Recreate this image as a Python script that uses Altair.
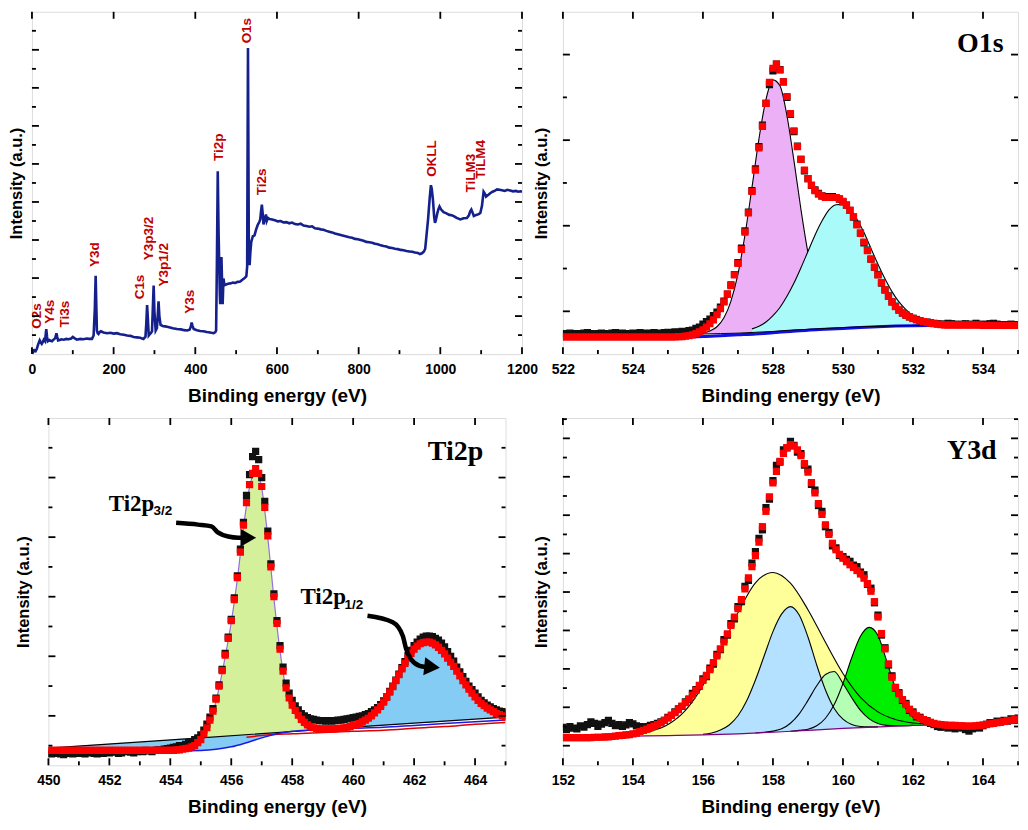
import altair as alt
import pandas as pd

SANS = "Liberation Sans"
SERIF = "Liberation Serif"
MAJ, MIN = 7, 4

# ---------------- survey spectrum ----------------
survey_be = [0, 3, 6, 9, 12, 15, 19, 22, 24, 27,
             29, 32, 35, 37, 39, 43, 46, 49, 53, 57,
             60, 62, 64, 68, 72, 78, 84, 90, 96, 100,
             104, 110, 118, 126, 134, 140, 147, 151, 154, 156,
             158, 159, 161, 163, 166, 169, 175, 184, 192, 200,
             208, 216, 225, 233, 241, 249, 257, 265, 273, 278,
             280, 282, 284, 286, 289, 291, 294, 296, 298, 300,
             303, 306, 308, 310, 312, 315, 320, 326, 331, 338,
             345, 355, 365, 373, 380, 386, 389, 391, 393, 396,
             404, 412, 420, 428, 436, 445, 449, 451, 453, 455,
             457, 458, 460, 461, 463, 464, 466, 467, 469, 471,
             473, 480, 486, 492, 498, 504, 510, 516, 522, 525,
             527, 529, 531, 533, 535, 537, 541, 545, 549, 553,
             557, 559, 561, 563, 565, 567, 569, 571, 573, 575,
             578, 582, 588, 595, 602, 609, 616, 623, 630, 637,
             644, 651, 658, 665, 672, 679, 686, 693, 700, 707,
             714, 721, 728, 735, 742, 749, 756, 763, 770, 777,
             784, 791, 798, 805, 812, 819, 826, 833, 840, 847,
             854, 861, 868, 875, 882, 889, 896, 903, 910, 917,
             924, 931, 938, 945, 950, 955, 960, 963, 966, 970,
             974, 977, 979, 982, 985, 987, 989, 992, 995, 998,
             1002, 1008, 1015, 1022, 1028, 1033, 1040, 1049, 1057, 1065,
             1070, 1073, 1076, 1079, 1082, 1088, 1094, 1098, 1102, 1106,
             1109, 1112, 1117, 1122, 1128, 1134, 1139, 1145, 1151, 1158,
             1164, 1171, 1178, 1185, 1191, 1196, 1200]
survey_int = [0.12, 0.05, 0.10, 0.08, 0.14, 0.25, 0.36, 0.30, 0.27, 0.33,
              0.38, 0.34, 0.66, 0.45, 0.34, 0.37, 0.35, 0.34, 0.38, 0.42,
              0.55, 0.45, 0.36, 0.37, 0.39, 0.38, 0.40, 0.39, 0.41, 0.45,
              0.42, 0.38, 0.40, 0.39, 0.41, 0.40, 0.40, 0.49, 1.20, 2.06,
              1.10, 0.62, 0.55, 0.53, 0.58, 0.60, 0.57, 0.55, 0.56, 0.54,
              0.55, 0.52, 0.51, 0.49, 0.48, 0.45, 0.44, 0.43, 0.40, 0.46,
              0.80, 1.29, 0.90, 0.49, 0.53, 0.55, 0.60, 1.20, 1.80, 1.10,
              0.62, 0.68, 1.00, 1.39, 1.00, 0.77, 0.74, 0.73, 0.72, 0.70,
              0.68, 0.66, 0.65, 0.63, 0.62, 0.64, 0.72, 0.83, 0.75, 0.66,
              0.63, 0.61, 0.60, 0.58, 0.57, 0.55, 0.58, 0.62, 2.50, 4.81,
              3.20, 2.68, 1.60, 1.31, 2.20, 2.55, 1.70, 1.31, 1.99, 1.85,
              1.82, 1.85, 1.86, 1.88, 1.87, 1.90, 1.91, 1.96, 2.01, 2.05,
              2.30, 8.05, 3.00, 2.34, 2.70, 2.95, 3.10, 3.12, 3.28, 3.40,
              3.48, 3.54, 3.75, 3.93, 3.70, 3.41, 3.50, 3.58, 3.67, 3.50,
              3.58, 3.55, 3.54, 3.52, 3.49, 3.50, 3.46, 3.47, 3.44, 3.46,
              3.42, 3.41, 3.43, 3.38, 3.37, 3.35, 3.36, 3.31, 3.30, 3.28,
              3.27, 3.24, 3.22, 3.20, 3.17, 3.15, 3.13, 3.11, 3.09, 3.07,
              3.06, 3.03, 3.02, 3.00, 2.98, 2.95, 2.94, 2.93, 2.90, 2.89,
              2.86, 2.84, 2.83, 2.80, 2.79, 2.77, 2.76, 2.74, 2.73, 2.71,
              2.70, 2.69, 2.67, 2.66, 2.63, 2.65, 2.70, 2.77, 3.10, 3.54,
              4.10, 4.44, 4.35, 4.05, 3.60, 3.45, 3.52, 3.67, 3.80, 3.88,
              3.80, 3.73, 3.70, 3.66, 3.65, 3.63, 3.58, 3.54, 3.57, 3.58,
              3.65, 3.75, 3.80, 3.72, 3.63, 3.66, 3.68, 3.71, 3.90, 4.27,
              4.22, 4.14, 4.18, 4.23, 4.27, 4.30, 4.33, 4.32, 4.31, 4.29,
              4.32, 4.30, 4.28, 4.29, 4.27, 4.28, 4.27]
survey_peak_names = ["O2s", "Y4s", "Ti3s", "Y3d", "C1s", "Y3p3/2", "Y3p1/2", "Y3s",
                     "Ti2p", "O1s", "Ti2s", "OKLL", "TiLM3", "TiLM4"]
survey_peak_be = [12.2, 43.3, 80.8, 154.3, 264.5, 286.5, 323.3, 387, 458, 526.6,
                  562.6, 979.7, 1074.4, 1099]
survey_peak_int = [0.67, 0.80, 0.70, 2.29, 1.44, 2.47, 1.78, 1.06, 5.08, 8.17,
                   4.18, 4.66, 4.25, 4.61]
survey_xmajor = [0, 200, 400, 600, 800, 1000, 1200]
survey_xminor = [100, 300, 500, 700, 900, 1100]
survey_ymajor = [1, 2, 3, 4, 5, 6, 7, 8]
survey_yminor = [0.5, 1.5, 2.5, 3.5, 4.5, 5.5, 6.5, 7.5, 8.5]

# ---------------- O1s ----------------
o1s_start = 522.0
o1s_fit = [0.40] * 33 + [
    0.41, 0.41, 0.42, 0.43, 0.45, 0.48, 0.52,
    0.57, 0.63, 0.71, 0.80, 0.92, 1.06, 1.22, 1.40, 1.60, 1.85,
    2.12, 2.45, 2.85, 3.30, 3.80, 4.30, 4.82, 5.32, 5.86, 6.35,
    6.68, 6.78, 6.64, 6.36, 6.02, 5.62, 5.22, 4.85, 4.55, 4.30,
    4.10, 3.95, 3.82, 3.74, 3.69, 3.66, 3.66, 3.66, 3.66, 3.63,
    3.57, 3.48, 3.36, 3.21, 3.02, 2.82, 2.62, 2.42, 2.22, 2.03,
    1.85, 1.67, 1.50, 1.35, 1.22, 1.11, 1.03, 0.96, 0.91, 0.87,
    0.83, 0.80, 0.78, 0.76, 0.74, 0.72, 0.71, 0.70, 0.69, 0.68] + [0.68] * 10 + [0.67] * 11
o1s_raw = [0.47, 0.48, 0.49, 0.48, 0.47, 0.48, 0.49, 0.50, 0.48, 0.47,
           0.48, 0.49, 0.48, 0.47, 0.49, 0.50, 0.48, 0.49, 0.48, 0.47,
           0.49, 0.48, 0.50, 0.49, 0.48, 0.49, 0.50, 0.49, 0.48, 0.50, 0.51,
           0.50, 0.52, 0.51, 0.53, 0.52, 0.55, 0.56, 0.60, 0.63,
           0.70, 0.76, 0.82, 0.90, 0.98, 1.10, 1.24, 1.40, 1.62, 1.86,
           2.14, 2.48, 2.88, 3.32, 3.82, 4.33, 4.85, 5.35, 5.86, 6.30,
           6.62, 6.78, 6.65, 6.36, 6.00, 5.60, 5.20, 4.86, 4.55, 4.28,
           4.10, 3.94, 3.84, 3.76, 3.70, 3.68, 3.66, 3.68, 3.66, 3.62,
           3.56, 3.48, 3.36, 3.20, 3.04, 2.83, 2.60, 2.43, 2.22, 2.03,
           1.86, 1.66, 1.50, 1.36, 1.22, 1.12, 1.03, 0.96, 0.91, 0.87,
           0.84, 0.81, 0.78, 0.76, 0.75, 0.73, 0.72, 0.71, 0.70, 0.70,
           0.72, 0.71, 0.70, 0.69, 0.70, 0.71, 0.69, 0.70, 0.72, 0.70,
           0.69, 0.70, 0.71, 0.72, 0.70, 0.69, 0.68, 0.69, 0.70, 0.69, 0.68]
o1s_bg_be = [522, 526, 526.5, 527, 527.5, 528, 528.5, 529, 529.5, 530, 530.5, 531, 531.5, 532, 533, 535]
o1s_bg = [0.46, 0.47, 0.48, 0.49, 0.51, 0.53, 0.56, 0.58, 0.60, 0.62, 0.64, 0.65, 0.66, 0.67, 0.68, 0.69]
o1s_blue_be = [522, 525, 525.5, 526, 526.5, 527, 527.5, 528, 528.5, 529, 529.5, 530, 530.5, 531, 531.5, 532, 532.5, 533]
o1s_blue = [0.39, 0.40, 0.40, 0.41, 0.43, 0.45, 0.47, 0.50, 0.53, 0.56, 0.58, 0.60, 0.62, 0.64, 0.655, 0.665, 0.67, 0.675]
o1s_p1_be = [526.0, 526.2, 526.4, 526.6, 526.8, 527.0, 527.2, 527.4, 527.6, 527.8, 528.0,
             528.2, 528.4, 528.6, 528.8, 529.0, 529.2, 529.4, 529.6, 529.8, 530.0]
o1s_p1_lo = [0.47, 0.47, 0.48, 0.48, 0.49, 0.49, 0.50, 0.51, 0.51, 0.52, 0.53,
             0.54, 0.55, 0.57, 0.57, 0.58, 0.59, 0.60, 0.60, 0.61, 0.62]
o1s_p1_hi = [0.49, 0.54, 0.64, 0.85, 1.24, 1.87, 2.78, 3.89, 5.03, 5.95, 6.41,
             6.27, 5.57, 4.52, 3.38, 2.37, 1.62, 1.13, 0.86, 0.71, 0.66]
o1s_p2_be = [527.4, 527.6, 527.8, 528.0, 528.2, 528.4, 528.6, 528.8, 529.0, 529.2,
             529.4, 529.6, 529.8, 530.0, 530.2, 530.4, 530.6, 530.8, 531.0, 531.2,
             531.4, 531.6, 531.8, 532.0, 532.2, 532.4, 532.6, 532.8, 533.0]
o1s_p2_lo = [0.51, 0.51, 0.52, 0.53, 0.54, 0.55, 0.57, 0.57, 0.58, 0.59,
             0.60, 0.60, 0.61, 0.62, 0.63, 0.64, 0.64, 0.65, 0.65, 0.66,
             0.66, 0.66, 0.67, 0.67, 0.67, 0.68, 0.68, 0.68, 0.68]
o1s_p2_hi = [0.59, 0.65, 0.75, 0.90, 1.09, 1.35, 1.66, 2.02, 2.40, 2.78,
             3.11, 3.37, 3.49, 3.50, 3.39, 3.15, 2.84, 2.47, 2.10, 1.76,
             1.46, 1.22, 1.04, 0.90, 0.82, 0.76, 0.725, 0.70, 0.69]
o1s_xmajor = [522, 524, 526, 528, 530, 532, 534]
o1s_xminor = [523, 525, 527, 529, 531, 533, 535]
o1s_ymajor = [1, 3, 5, 7]
o1s_yminor = [2, 4, 6]

# ---------------- Ti2p ----------------
ti_start = 450.0
ti_fit = [0.42] * 41 + [
    0.42, 0.43, 0.43, 0.44, 0.45, 0.46, 0.48, 0.50, 0.55,
    0.60, 0.70, 0.80, 0.93, 1.08, 1.28, 1.50, 1.76, 2.02, 2.30,
    2.60, 2.95, 3.32, 3.75, 4.20, 4.58, 4.88, 5.07, 5.15, 5.07,
    4.85, 4.50, 4.02, 3.50, 3.00, 2.55, 2.12, 1.75, 1.47, 1.30,
    1.18, 1.09, 1.01, 0.94, 0.89, 0.85, 0.82, 0.80, 0.79, 0.78,
    0.78, 0.78, 0.78, 0.78, 0.78, 0.79, 0.79, 0.80, 0.81, 0.82,
    0.84, 0.85, 0.87, 0.90, 0.93, 0.96, 1.00, 1.05, 1.10, 1.16,
    1.23, 1.31, 1.40, 1.49, 1.59, 1.69, 1.79, 1.88, 1.97, 2.05,
    2.12, 2.17, 2.21, 2.23, 2.24, 2.24, 2.22, 2.19, 2.15, 2.10,
    2.04, 1.97, 1.90, 1.83, 1.75, 1.67, 1.59, 1.52, 1.45, 1.38,
    1.32, 1.26, 1.21, 1.17, 1.13, 1.10, 1.07, 1.04, 1.02, 1.00,
    0.98]
ti_raw = [0.37, 0.36, 0.38, 0.37, 0.36, 0.35, 0.37, 0.38, 0.36, 0.37,
          0.38, 0.37, 0.36, 0.38, 0.39, 0.37, 0.36, 0.38, 0.37, 0.39,
          0.38, 0.40, 0.39, 0.37, 0.38, 0.40, 0.41, 0.39, 0.38, 0.40,
          0.41, 0.40, 0.42, 0.41, 0.40, 0.42, 0.43, 0.42, 0.44, 0.45,
          0.46, 0.47, 0.48, 0.50, 0.49, 0.52, 0.55, 0.57, 0.60, 0.63,
          0.68, 0.76, 0.86, 0.98, 1.12, 1.30, 1.52, 1.78, 2.05, 2.32,
          2.62, 2.98, 3.35, 3.80, 4.25, 4.70, 5.05, 5.35, 5.44, 5.30,
          5.00, 4.60, 4.10, 3.55, 3.05, 2.60, 2.18, 1.82, 1.55, 1.38,
          1.26, 1.17, 1.10, 1.04, 1.00, 0.97, 0.95, 0.94, 0.93, 0.92,
          0.92, 0.91, 0.92, 0.91, 0.92, 0.93, 0.93, 0.94, 0.95, 0.96,
          0.97, 0.98, 0.99, 1.00, 1.02, 1.04, 1.07, 1.10, 1.14, 1.19,
          1.25, 1.32, 1.41, 1.50, 1.60, 1.70, 1.81, 1.91, 2.01, 2.10,
          2.18, 2.24, 2.29, 2.32, 2.34, 2.34, 2.33, 2.30, 2.27, 2.22,
          2.16, 2.08, 2.00, 1.92, 1.82, 1.74, 1.66, 1.58, 1.50, 1.44,
          1.38, 1.32, 1.26, 1.22, 1.18, 1.15, 1.12, 1.10, 1.08, 1.07,
          1.05]
ti_bg_be = [450, 455, 460, 465]
ti_bg = [0.46, 0.63, 0.81, 0.98]
ti_blue_be = [450, 452, 454, 454.5, 455, 455.5, 456, 456.5, 457, 457.5, 458, 458.5, 459,
              460, 461, 462, 463, 464, 465]
ti_blue = [0.40, 0.405, 0.41, 0.415, 0.42, 0.44, 0.48, 0.55, 0.63, 0.70, 0.74, 0.76, 0.77,
           0.79, 0.81, 0.84, 0.87, 0.90, 0.93]
ti_redbg_be = [456.5, 457, 458, 459, 460, 461, 462, 463, 464, 465]
ti_redbg = [0.64, 0.67, 0.70, 0.72, 0.74, 0.76, 0.79, 0.82, 0.86, 0.89]
ti_band_be = [450, 452, 454, 454.5, 455, 455.5, 456, 456.5, 457, 457.5, 458, 458.5, 459]
ti_band_lo = [0.40, 0.405, 0.41, 0.415, 0.42, 0.44, 0.48, 0.55, 0.63, 0.70, 0.74, 0.76, 0.77]
ti_band_hi = [0.46, 0.53, 0.60, 0.62, 0.63, 0.65, 0.67, 0.69, 0.70, 0.72, 0.74, 0.75, 0.77]
ti_p1_be = [454.8, 455.0, 455.2, 455.4, 455.6, 455.8, 456.0, 456.2, 456.4, 456.6, 456.8,
            457.0, 457.2, 457.4, 457.6, 457.8, 458.0, 458.2, 458.4, 458.6, 458.8]
ti_p1_lo = [0.63, 0.63, 0.64, 0.65, 0.66, 0.66, 0.67, 0.68, 0.68, 0.69, 0.70,
            0.70, 0.71, 0.72, 0.72, 0.73, 0.74, 0.75, 0.75, 0.76, 0.77]
ti_p1_hi = [0.63, 0.64, 0.78, 1.05, 1.47, 1.99, 2.57, 3.29, 4.16, 4.84, 5.10,
            4.82, 3.99, 2.97, 2.09, 1.44, 1.12, 0.94, 0.82, 0.77, 0.77]
ti_p2_be = [459.5, 459.75, 460.0, 460.25, 460.5, 460.75, 461.0, 461.25, 461.5, 461.75,
            462.0, 462.25, 462.5, 462.75, 463.0, 463.25, 463.5, 463.75, 464.0, 464.25,
            464.5, 464.75, 465.0]
ti_p2_lo = [0.79, 0.80, 0.81, 0.82, 0.82, 0.83, 0.84, 0.85, 0.86, 0.87,
            0.88, 0.89, 0.89, 0.90, 0.91, 0.92, 0.93, 0.94, 0.95, 0.95,
            0.96, 0.97, 0.98]
ti_p2_hi = [0.805, 0.83, 0.86, 0.91, 0.97, 1.08, 1.24, 1.45, 1.68, 1.90,
            2.10, 2.21, 2.24, 2.20, 2.05, 1.87, 1.68, 1.49, 1.33, 1.22,
            1.13, 1.07, 1.02]
ti_label_text = ["Ti2p", "Ti2p"]
ti_label_be = [451.98, 458.27]
ti_label_int = [4.44, 2.87]
ti_sub_text = ["3/2", "1/2"]
ti_sub_be = [453.45, 459.72]
ti_sub_int = [4.37, 2.80]
arrow1_be = [454.19, 454.91, 455.35, 455.56, 455.90, 456.23, 456.40]
arrow1_int = [4.24, 4.21, 4.18, 4.08, 4.01, 3.99, 3.99]
arrow2_be = [460.47, 461.30, 461.63, 461.74, 461.90, 462.18, 462.40]
arrow2_int = [2.68, 2.57, 2.34, 2.12, 1.95, 1.84, 1.82]
head_be = [456.56, 462.59]
head_int = [3.99, 1.82]
head_angle = [0, 6]
ti_xmajor = [450, 452, 454, 456, 458, 460, 462, 464]
ti_xminor = [451, 453, 455, 457, 459, 461, 463, 465]
ti_ymajor = [1, 2, 3, 4, 5]
ti_yminor = [0.5, 1.5, 2.5, 3.5, 4.5, 5.5]

# ---------------- Y3d ----------------
y3_start = 152.0
y3_fit = [1.21, 1.21, 1.21, 1.21, 1.21, 1.21, 1.21, 1.21, 1.21, 1.22,
          1.22, 1.22, 1.23, 1.23, 1.24, 1.25, 1.26, 1.27, 1.28, 1.29,
          1.31, 1.33, 1.37, 1.40, 1.43, 1.47, 1.51, 1.55, 1.60, 1.66,
          1.72, 1.79, 1.86, 1.94, 2.03, 2.12, 2.22, 2.32, 2.44, 2.57,
          2.70, 2.83, 2.98, 3.16, 3.34, 3.52, 3.70, 3.91, 4.13, 4.35,
          4.57, 4.80, 5.08, 5.37, 5.66, 5.95, 6.30, 6.70, 7.10, 7.48,
          7.84, 8.14, 8.40, 8.61, 8.76, 8.84, 8.80, 8.70, 8.55, 8.34,
          8.12, 7.85, 7.58, 7.30, 7.02, 6.75, 6.50, 6.27, 6.10, 5.98,
          5.88, 5.79, 5.71, 5.64, 5.56, 5.47, 5.36, 5.22, 5.02, 4.75,
          4.35, 3.92, 3.52, 3.13, 2.78, 2.52, 2.35, 2.20, 2.07, 1.95,
          1.85, 1.78, 1.72, 1.68, 1.64, 1.61, 1.58, 1.56, 1.55, 1.54,
          1.53, 1.53, 1.53, 1.52, 1.52, 1.51, 1.51, 1.51, 1.52, 1.53,
          1.54, 1.55, 1.57, 1.58, 1.60, 1.61, 1.63, 1.65, 1.66, 1.68,
          1.69]
y3_raw = [1.48, 1.42, 1.50, 1.46, 1.44, 1.52, 1.48, 1.55, 1.62, 1.58,
          1.50, 1.56, 1.60, 1.66, 1.58, 1.52, 1.55, 1.50, 1.54, 1.60,
          1.57, 1.52, 1.50, 1.48, 1.50, 1.53, 1.55, 1.58, 1.62, 1.66,
          1.74, 1.79, 1.88, 1.96, 2.02, 2.14, 2.20, 2.36, 2.46, 2.55,
          2.74, 2.80, 3.02, 3.12, 3.38, 3.50, 3.76, 3.88, 4.18, 4.30,
          4.62, 4.75, 5.15, 5.30, 5.75, 6.05, 6.40, 6.62, 7.20, 7.42,
          7.90, 8.30, 8.38, 8.70, 8.75, 8.92, 8.82, 8.64, 8.60, 8.30,
          8.20, 7.80, 7.65, 7.25, 7.10, 6.70, 6.55, 6.20, 6.15, 5.95,
          5.92, 5.85, 5.80, 5.70, 5.66, 5.52, 5.45, 5.20, 5.10, 4.72,
          4.40, 3.88, 3.55, 3.10, 2.82, 2.50, 2.38, 2.18, 2.10, 1.92,
          1.88, 1.75, 1.74, 1.66, 1.65, 1.58, 1.55, 1.50, 1.48, 1.50,
          1.46, 1.48, 1.44, 1.50, 1.46, 1.42, 1.38, 1.44, 1.50, 1.46,
          1.52, 1.56, 1.60, 1.58, 1.64, 1.62, 1.66, 1.64, 1.70, 1.68,
          1.72]
y3_bg_be = [152, 153, 154, 155, 156, 157, 158, 159, 160, 161, 162, 163, 164, 165]
y3_bg = [1.22, 1.23, 1.25, 1.265, 1.28, 1.31, 1.35, 1.40, 1.45, 1.49, 1.53, 1.55, 1.57, 1.58]
y3_yel_be = [153, 153.5, 154, 154.5, 155, 155.5, 156, 156.5, 157, 157.5, 158,
             158.5, 159, 159.5, 160, 160.5, 161, 161.5, 162, 162.5, 163]
y3_yel_lo = [1.23, 1.24, 1.25, 1.26, 1.265, 1.27, 1.28, 1.295, 1.31, 1.33, 1.35,
             1.375, 1.40, 1.425, 1.45, 1.47, 1.49, 1.51, 1.53, 1.54, 1.55]
y3_yel_hi = [1.23, 1.25, 1.28, 1.37, 1.55, 1.92, 2.57, 3.47, 4.46, 5.24, 5.51,
             5.23, 4.54, 3.69, 2.88, 2.26, 1.88, 1.68, 1.59, 1.56, 1.56]
y3_blu_be = [156, 156.25, 156.5, 156.75, 157, 157.25, 157.5, 157.75, 158, 158.25, 158.5,
             158.75, 159, 159.25, 159.5, 159.75, 160, 160.25, 160.5, 160.75, 161]
y3_blu_lo = [1.28, 1.285, 1.295, 1.30, 1.31, 1.32, 1.33, 1.34, 1.35, 1.36, 1.375,
             1.39, 1.40, 1.41, 1.425, 1.44, 1.45, 1.46, 1.47, 1.48, 1.49]
y3_blu_hi = [1.30, 1.33, 1.41, 1.54, 1.78, 2.17, 2.71, 3.34, 3.97, 4.43, 4.62,
             4.40, 3.83, 3.10, 2.45, 1.97, 1.69, 1.55, 1.50, 1.49, 1.49]
y3_lg_be = [157.5, 157.75, 158, 158.25, 158.5, 158.75, 159, 159.25, 159.5, 159.75,
            160, 160.25, 160.5, 160.75, 161, 161.25, 161.5, 161.75, 162]
y3_lg_lo = [1.33, 1.34, 1.35, 1.36, 1.375, 1.39, 1.40, 1.41, 1.425, 1.44,
            1.45, 1.46, 1.47, 1.48, 1.49, 1.50, 1.51, 1.52, 1.53]
y3_lg_hi = [1.33, 1.35, 1.38, 1.44, 1.585, 1.83, 2.18, 2.56, 2.855, 2.93,
            2.62, 2.25, 1.92, 1.70, 1.58, 1.53, 1.52, 1.52, 1.53]
y3_gr_be = [158.5, 158.75, 159, 159.25, 159.5, 159.75, 160, 160.25, 160.5, 160.75,
            161, 161.25, 161.5, 161.75, 162, 162.25, 162.5, 162.75, 163]
y3_gr_lo = [1.375, 1.39, 1.40, 1.41, 1.425, 1.44, 1.45, 1.46, 1.47, 1.48,
            1.49, 1.50, 1.51, 1.52, 1.53, 1.535, 1.54, 1.545, 1.55]
y3_gr_hi = [1.375, 1.40, 1.43, 1.52, 1.715, 2.07, 2.62, 3.29, 3.85, 4.08,
            3.87, 3.20, 2.50, 2.02, 1.74, 1.62, 1.57, 1.555, 1.55]
y3_xmajor = [152, 154, 156, 158, 160, 162, 164]
y3_xminor = [153, 155, 157, 159, 161, 163, 165]
y3_ymajor = [1, 2, 3, 4, 5, 6, 7, 8, 9]
y3_yminor = [1.5, 2.5, 3.5, 4.5, 5.5, 6.5, 7.5, 8.5, 9.5]

panel_names = ["O1s", "Ti2p", "Y3d"]


def grid(start, n):
    return [round(start + 0.1 * i, 2) for i in range(n)]


def encoders(xdom, ydom, xvals, ypad):
    xs = alt.Scale(domain=xdom, nice=False, zero=False)
    ys = alt.Scale(domain=ydom, nice=False, zero=False)
    xa = alt.Axis(values=xvals, title="Binding energy (eV)", ticks=False, domain=False,
                  grid=False, tickSize=0, labelPadding=8, labelFontSize=14, labelFont=SANS,
                  labelFontWeight="bold", labelColor="black", titleFontSize=19,
                  titleFont=SANS, titleFontWeight="bold", titleColor="black",
                  titlePadding=10, format="d", labelFlush=False, labelOverlap=False)
    ya = alt.Axis(title="Intensity (a.u.)", labels=False, ticks=False, domain=False,
                  grid=False, tickSize=0, titleFontSize=16.5, titleFont=SANS,
                  titleFontWeight="bold", titleColor="black", titlePadding=ypad)

    def X(f):
        return alt.X(f, type="quantitative", scale=xs, axis=xa)

    def Y(f):
        return alt.Y(f, type="quantitative", scale=ys, axis=ya)
    return X, Y


def tick_layers(X, Y, W, H, xmaj, xmin, ymaj, ymin):
    out = []

    def xr(vals, y1, y2):
        return alt.Chart(pd.DataFrame({"v": vals})).mark_rule(
            color="black", strokeWidth=1.8).encode(x=X("v"), y=alt.value(y1), y2=alt.value(y2))

    def yr(vals, x1, x2):
        return alt.Chart(pd.DataFrame({"v": vals})).mark_rule(
            color="black", strokeWidth=1.8).encode(y=Y("v"), x=alt.value(x1), x2=alt.value(x2))
    out += [xr(xmaj, H, H - MAJ), xr(xmin, H, H - MIN), xr(xmaj, 0, MAJ)]
    out += [yr(ymaj, 0, MAJ), yr(ymin, 0, MIN), yr(ymaj, W, W - MAJ), yr(ymin, W, W - MIN)]
    return out


def band(X, Y, be, lo, hi, color, outline=None, ow=1.0):
    df = pd.DataFrame({"be": be, "lo": lo, "hi": hi})
    layers = [alt.Chart(df).mark_area(color=color, opacity=1, interpolate="monotone", clip=True)
              .encode(x=X("be"), y=Y("hi"), y2=alt.Y2("lo"))]
    if outline:
        layers.append(alt.Chart(df).mark_line(color=outline, strokeWidth=ow, interpolate="monotone",
                                              clip=True).encode(x=X("be"), y=Y("hi")))
    return layers


def curve(X, Y, be, vals, color, width):
    df = pd.DataFrame({"be": be, "v": vals})
    return alt.Chart(df).mark_line(color=color, strokeWidth=width, interpolate="monotone",
                                   clip=True).encode(x=X("be"), y=Y("v"))


def squares(X, Y, start, raw, fit):
    df = pd.DataFrame({"be": grid(start, len(fit)), "raw": raw, "fit": fit})
    return [alt.Chart(df).mark_square(size=52, color="#111111", opacity=1, clip=True)
            .encode(x=X("be"), y=Y("raw")),
            alt.Chart(df).mark_square(size=52, color="#FF0000", opacity=1, clip=True)
            .encode(x=X("be"), y=Y("fit"))]


def name_label(X, Y, be, val, text):
    df = pd.DataFrame({"be": [be], "v": [val], "t": [text]})
    return alt.Chart(df).mark_text(align="right", baseline="alphabetic", font=SERIF,
                                   fontWeight="bold", fontSize=28, color="black").encode(
        x=X("be"), y=Y("v"), text="t:N")


# ---------------- survey panel ----------------
SW, SH = 491, 343
X, Y = encoders([0, 1200], [0, 9], survey_xmajor, 7.5)
sdf = pd.DataFrame({"be": survey_be, "v": survey_int})
ldf = pd.DataFrame({"be": survey_peak_be, "v": survey_peak_int, "t": survey_peak_names})
survey = alt.layer(
    alt.Chart(sdf).mark_line(color="#14208C", strokeWidth=2.6, clip=True).encode(x=X("be"), y=Y("v")),
    alt.Chart(ldf).mark_text(angle=270, align="left", baseline="middle", font=SANS,
                             fontWeight="bold", fontSize=13.5, color="#C00000").encode(
        x=X("be"), y=Y("v"), text="t:N"),
    *tick_layers(X, Y, SW, SH, survey_xmajor, survey_xminor, survey_ymajor, survey_yminor),
).properties(width=SW, height=SH)

# ---------------- O1s panel ----------------
OW, OH = 456, 343
X, Y = encoders([522, 535], [0, 8], o1s_xmajor, 13)
o1s = alt.layer(
    *band(X, Y, o1s_p1_be, o1s_p1_lo, o1s_p1_hi, "#ECB0F6", "black", 1.1),
    *band(X, Y, o1s_p2_be, o1s_p2_lo, o1s_p2_hi, "#AAFAFA", "black", 1.1),
    curve(X, Y, o1s_blue_be, o1s_blue, "#1010E6", 3),
    curve(X, Y, o1s_bg_be, o1s_bg, "black", 1),
    *squares(X, Y, o1s_start, o1s_raw, o1s_fit),
    name_label(X, Y, 534.59, 7.07, panel_names[0]),
    *tick_layers(X, Y, OW, OH, o1s_xmajor, o1s_xminor, o1s_ymajor, o1s_yminor),
).properties(width=OW, height=OH)

# ---------------- Ti2p panel ----------------
TW, TH = 458, 348
X, Y = encoders([450, 465], [0.17, 6.0], ti_xmajor, 16.5)
tlab = pd.DataFrame({"be": ti_label_be, "v": ti_label_int, "t": ti_label_text})
tsub = pd.DataFrame({"be": ti_sub_be, "v": ti_sub_int, "t": ti_sub_text})
a1 = pd.DataFrame({"be": arrow1_be, "v": arrow1_int})
a2 = pd.DataFrame({"be": arrow2_be, "v": arrow2_int})
hd = pd.DataFrame({"be": head_be, "v": head_int, "a": head_angle})
ti2p = alt.layer(
    *band(X, Y, ti_band_be, ti_band_lo, ti_band_hi, "#84CCF4"),
    *band(X, Y, ti_p1_be, ti_p1_lo, ti_p1_hi, "#D5F09B", "#9370DB", 1.2),
    *band(X, Y, ti_p2_be, ti_p2_lo, ti_p2_hi, "#84CCF4"),
    curve(X, Y, ti_bg_be, ti_bg, "black", 1.2),
    curve(X, Y, ti_redbg_be, ti_redbg, "#E00000", 1.5),
    curve(X, Y, ti_blue_be, ti_blue, "#1A1AE6", 1.5),
    *squares(X, Y, ti_start, ti_raw, ti_fit),
    alt.Chart(a1).mark_line(color="black", strokeWidth=4.5, interpolate="monotone").encode(x=X("be"), y=Y("v")),
    alt.Chart(a2).mark_line(color="black", strokeWidth=4.5, interpolate="monotone").encode(x=X("be"), y=Y("v")),
    alt.Chart(hd).mark_point(shape="triangle-right", size=330, filled=True, color="black",
                             opacity=1).encode(x=X("be"), y=Y("v"), angle=alt.Angle("a:Q", scale=None)),
    alt.Chart(tlab).mark_text(align="left", baseline="alphabetic", font=SERIF, fontWeight="bold",
                              fontSize=23, color="black").encode(x=X("be"), y=Y("v"), text="t:N"),
    alt.Chart(tsub).mark_text(align="left", baseline="alphabetic", font=SANS, fontWeight="bold",
                              fontSize=13.5, color="black").encode(x=X("be"), y=Y("v"), text="t:N"),
    name_label(X, Y, 464.27, 5.30, panel_names[1]),
    *tick_layers(X, Y, TW, TH, ti_xmajor, ti_xminor, ti_ymajor, ti_yminor),
).properties(width=TW, height=TH)

# ---------------- Y3d panel ----------------
YW, YH = 456, 348
X, Y = encoders([152, 165], [0.49, 9.53], y3_xmajor, 13)
y3d = alt.layer(
    *band(X, Y, y3_yel_be, y3_yel_lo, y3_yel_hi, "#FFFF99"),
    *band(X, Y, y3_gr_be, y3_gr_lo, y3_gr_hi, "#00EE00"),
    *band(X, Y, y3_lg_be, y3_lg_lo, y3_lg_hi, "#B4FFB4"),
    *band(X, Y, y3_blu_be, y3_blu_lo, y3_blu_hi, "#B4E1FF"),
    curve(X, Y, y3_yel_be, y3_yel_hi, "black", 1.1),
    curve(X, Y, y3_gr_be, y3_gr_hi, "black", 1.1),
    curve(X, Y, y3_lg_be, y3_lg_hi, "black", 1.1),
    curve(X, Y, y3_blu_be, y3_blu_hi, "black", 1.1),
    curve(X, Y, y3_bg_be, y3_bg, "#800080", 1.2),
    *squares(X, Y, y3_start, y3_raw, y3_fit),
    name_label(X, Y, 164.39, 8.47, panel_names[2]),
    *tick_layers(X, Y, YW, YH, y3_xmajor, y3_xminor, y3_ymajor, y3_yminor),
).properties(width=YW, height=YH)

chart = alt.concat(
    survey, o1s, ti2p, y3d, columns=2,
    spacing={"row": 64, "column": 41}, center=True, bounds="flush",
).properties(
    padding={"left": 0, "top": 1, "right": 0, "bottom": 0}
).configure_view(stroke="black", strokeWidth=2).configure(background="white")

chart.save("out.html", embed_options={"renderer": "svg", "actions": False})
